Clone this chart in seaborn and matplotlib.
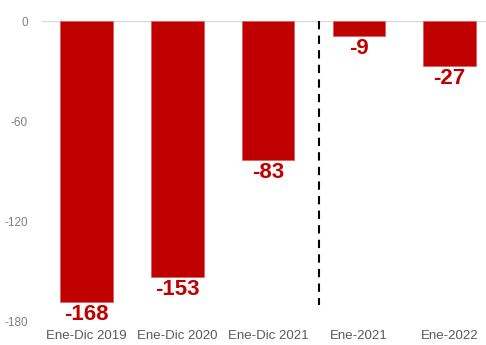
import matplotlib
matplotlib.use("Agg")
import matplotlib.pyplot as plt
import seaborn as sns
import pandas as pd

categories = ["Ene-Dic 2019", "Ene-Dic 2020", "Ene-Dic 2021", "Ene-2021", "Ene-2022"]
values = [-168, -153, -83, -9, -27]
labels = ["-168", "-153", "-83", "-9", "-27"]
yticks = [0, -60, -120, -180]

sns.set_theme(style="white")
plt.rcParams['font.family'] = ['Liberation Sans', 'DejaVu Sans']

df = pd.DataFrame({"cat": categories, "val": values})

fig = plt.figure(figsize=(4.86, 3.45), dpi=100)
ax = fig.add_axes([42/486, 23/345, 1 - 42/486, 301/345])

red = "#C00000"
sns.barplot(data=df, x="cat", y="val", color=red, saturation=1, width=0.58,
            edgecolor="#E06060", linewidth=0.6, ax=ax)

for i, (v, t) in enumerate(zip(values, labels)):
    ax.annotate(t, xy=(i, v), xytext=(0, -1.5), textcoords="offset points",
                ha="center", va="top", fontsize=16, fontweight="bold", color=red)

ax.axhline(0, color="#D9D9D9", linewidth=1, zorder=0)
ax.plot([2.56, 2.56], [0, -170], color="black", linestyle=(0, (4, 3)), linewidth=1.5)

ax.set_ylim(-180, 0)
ax.set_xlim(-0.49, 4.4)
ax.set_yticks(yticks)
ax.set_yticklabels([str(y) for y in yticks])
ax.tick_params(axis="y", labelsize=8.5, labelcolor="#7F7F7F", length=0, pad=10)
ax.tick_params(axis="x", labelsize=9.5, labelcolor="#595959", length=0, pad=6)
ax.set_xlabel("")
ax.set_ylabel("")
for s in ax.spines.values():
    s.set_visible(False)

fig.savefig("out.png", dpi=100)
